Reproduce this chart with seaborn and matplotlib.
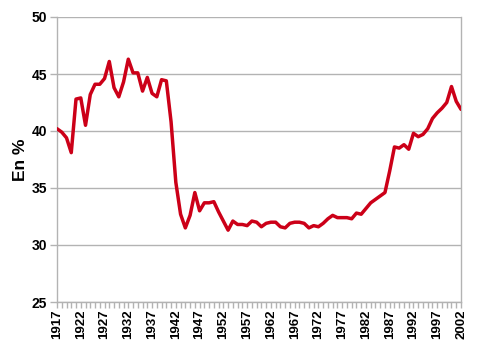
import matplotlib
matplotlib.use("Agg")
import matplotlib.pyplot as plt
import seaborn as sns
import pandas as pd
from matplotlib.ticker import MultipleLocator, FixedLocator

years = list(range(1917, 2003))
values = [40.2, 39.9, 39.4, 38.1, 42.8, 42.9, 40.5, 43.2, 44.1, 44.1,
          44.6, 46.1, 43.8, 43.0, 44.3, 46.3, 45.1, 45.1, 43.5, 44.7,
          43.3, 43.0, 44.5, 44.4, 40.8, 35.5, 32.7, 31.5, 32.6, 34.6,
          33.0, 33.7, 33.7, 33.8, 32.9, 32.1, 31.3, 32.1, 31.8, 31.8,
          31.7, 32.1, 32.0, 31.6, 31.9, 32.0, 32.0, 31.6, 31.5, 31.9,
          32.0, 32.0, 31.9, 31.5, 31.7, 31.6, 31.9, 32.3, 32.6, 32.4,
          32.4, 32.4, 32.3, 32.8, 32.7, 33.2, 33.7, 34.0, 34.3, 34.6,
          36.5, 38.6, 38.5, 38.8, 38.4, 39.8, 39.5, 39.7, 40.2, 41.1,
          41.6, 42.0, 42.5, 43.9, 42.6, 41.9]
x_tick_labels = [str(y) for y in range(1917, 2003, 5)]
y_ticks = [25, 30, 35, 40, 45, 50]
y_label = "En %"

sns.set_theme(style="white")
plt.rcParams['font.family'] = ['Liberation Sans', 'DejaVu Sans']

df = pd.DataFrame({"year": years, "value": values})

fig = plt.figure(figsize=(4.8, 3.47), dpi=100)
ax = fig.add_axes([57/480, 1-302/347, (461-57)/480, (302-17)/347])

sns.lineplot(data=df, x="year", y="value", ax=ax, color="#CC0018",
             linewidth=2.5, zorder=3)

ax.set_xlim(1917, 2002)
ax.set_ylim(25, 50)
ax.yaxis.set_major_locator(FixedLocator(y_ticks))
ax.xaxis.set_major_locator(FixedLocator([int(s) for s in x_tick_labels]))
ax.xaxis.set_minor_locator(MultipleLocator(1))
ax.set_xticklabels(x_tick_labels, rotation=90, fontsize=9.5, fontweight="bold")
ax.set_yticklabels([str(t) for t in y_ticks], fontsize=10, fontweight="bold")

ax.grid(axis="y", color="#B3B3B3", linewidth=1.0)
ax.grid(axis="x", visible=False)
for side in ["left", "bottom", "right"]:
    ax.spines[side].set_visible(True)
    ax.spines[side].set_color("#B3B3B3")
    ax.spines[side].set_linewidth(1.0)
ax.spines["top"].set_visible(False)

ax.tick_params(axis="y", which="major", direction="out", length=5, width=1,
               color="#B3B3B3", pad=2, left=True, labelcolor="black")
ax.tick_params(axis="x", which="major", direction="out", length=4, width=1,
               color="#B3B3B3", pad=1.5, bottom=True, labelcolor="black")
ax.tick_params(axis="x", which="minor", direction="out", length=4, width=1,
               color="#B3B3B3", bottom=True)

ax.set_xlabel("")
ax.set_ylabel(y_label, fontsize=12.5, fontweight="bold", color="black",
              labelpad=3)

fig.savefig("out.png", dpi=100)
